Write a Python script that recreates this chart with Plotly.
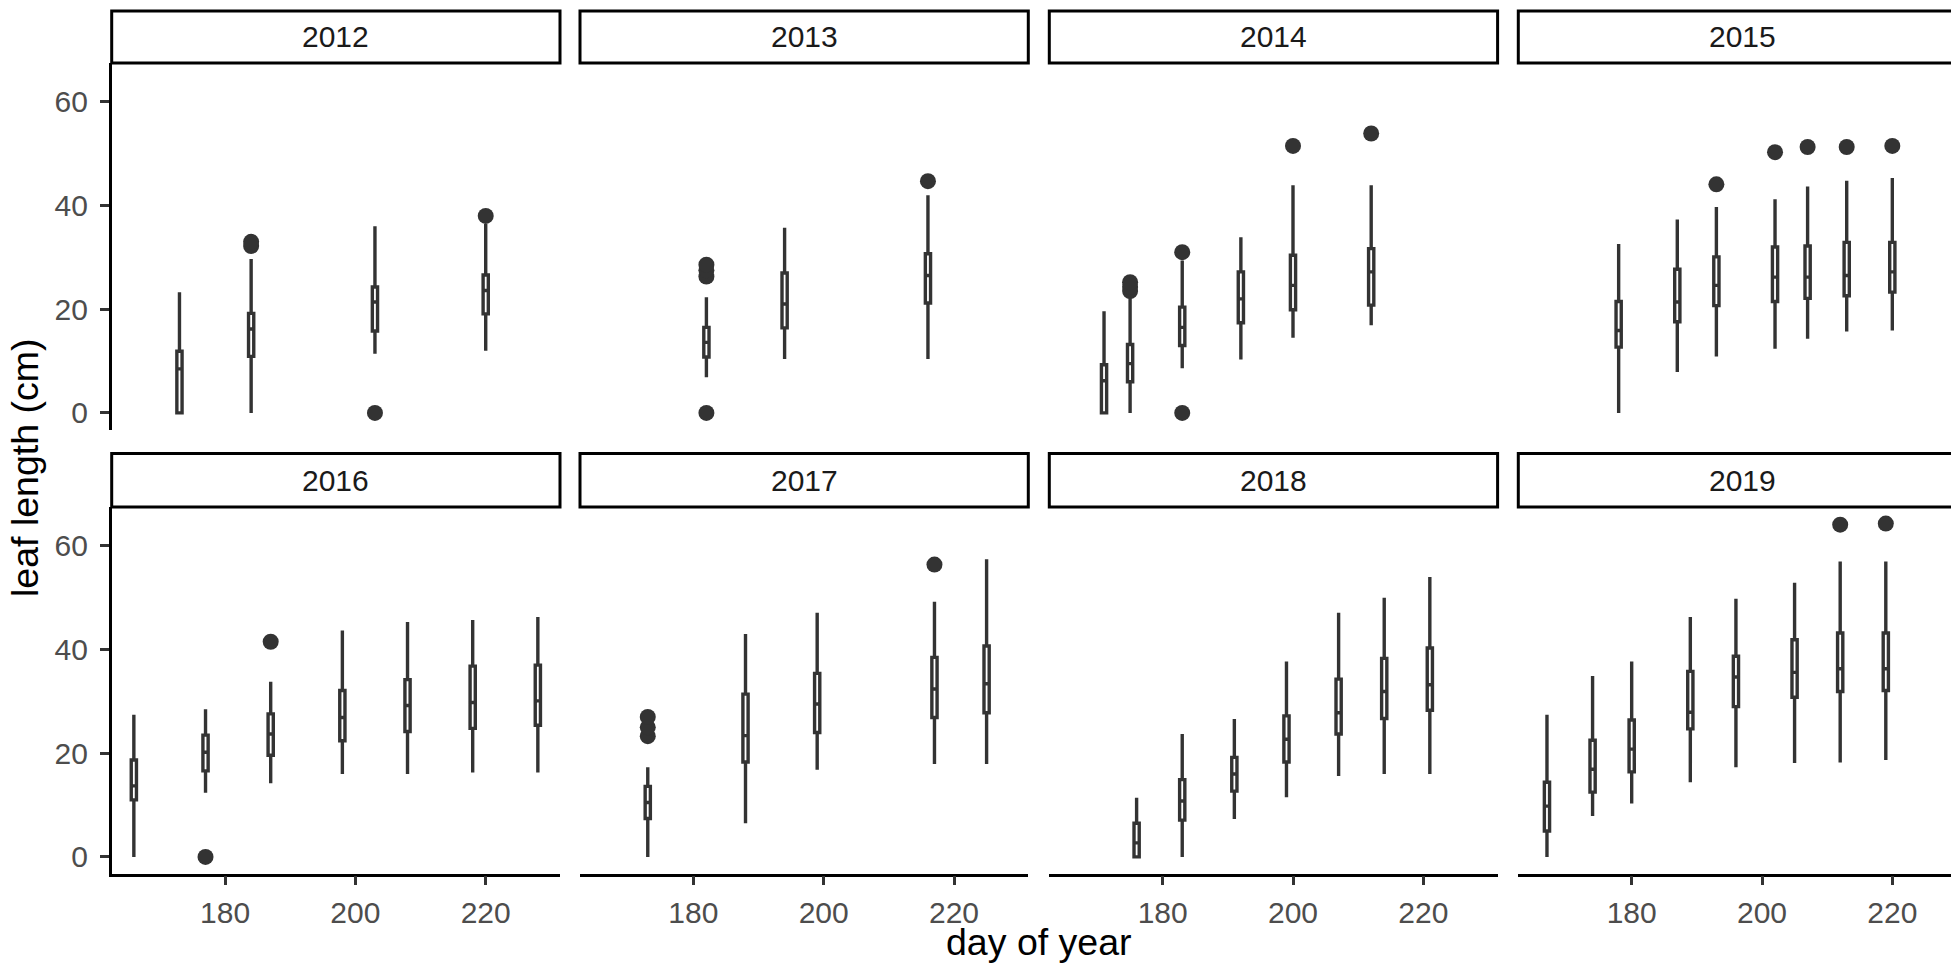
import plotly.graph_objects as go

# ---------------- data ----------------
YEARS = [2012, 2013, 2014, 2015, 2016, 2017, 2018, 2019]

DAYS = [
    [173, 184, 203, 220],
    [182, 194, 216],
    [171, 175, 183, 192, 200, 212],
    [178, 187, 193, 202, 207, 213, 220],
    [166, 177, 187, 198, 208, 218, 228],
    [173, 188, 199, 217, 225],
    [176, 183, 191, 199, 207, 214, 221],
    [167, 174, 180, 189, 196, 205, 212, 219],
]
LOWER = [
    [0, 0, 11.4, 12.0],
    [6.9, 10.4, 10.4],
    [0, 0, 8.6, 10.3, 14.5, 16.9],
    [0, 7.9, 10.9, 12.4, 14.3, 15.7, 15.9],
    [0, 12.4, 14.2, 16.0, 16.0, 16.3, 16.3],
    [0, 6.5, 16.8, 17.9, 17.9],
    [0, 0, 7.3, 11.5, 15.6, 16.0, 16.0],
    [0, 7.9, 10.3, 14.4, 17.3, 18.1, 18.2, 18.7],
]
Q1 = [
    [0, 10.9, 15.8, 19.1],
    [10.8, 16.4, 21.2],
    [0, 6.0, 13.0, 17.4, 19.9, 20.8],
    [12.7, 17.6, 20.7, 21.5, 22.1, 22.6, 23.3],
    [11.0, 16.6, 19.6, 22.4, 24.2, 24.8, 25.4],
    [7.4, 18.3, 24.0, 26.9, 27.8],
    [0, 7.1, 12.7, 18.3, 23.7, 26.7, 28.3],
    [5.0, 12.5, 16.4, 24.7, 29.0, 30.8, 31.9, 32.1],
]
MEDIAN = [
    [8.5, 16.2, 21.4, 23.6],
    [13.6, 21.0, 26.5],
    [6.2, 9.5, 16.5, 22.0, 24.6, 27.2],
    [15.9, 21.4, 24.6, 26.2, 26.2, 26.5, 27.2],
    [13.7, 20.2, 23.7, 26.9, 29.2, 29.8, 30.1],
    [10.5, 23.4, 29.5, 32.4, 33.4],
    [2.7, 10.8, 16.0, 22.7, 27.8, 31.9, 33.2],
    [9.8, 16.9, 20.8, 27.9, 34.7, 35.6, 36.3, 36.3],
]
Q3 = [
    [11.9, 19.2, 24.3, 26.6],
    [16.5, 27.0, 30.7],
    [9.3, 13.2, 20.4, 27.2, 30.4, 31.7],
    [21.5, 27.7, 30.1, 32.0, 32.2, 32.9, 32.9],
    [18.7, 23.5, 27.6, 32.1, 34.2, 36.8, 37.0],
    [13.6, 31.4, 35.4, 38.5, 40.7],
    [6.5, 14.9, 19.2, 27.2, 34.3, 38.3, 40.3],
    [14.4, 22.5, 26.4, 35.8, 38.7, 41.9, 43.2, 43.2],
]
UPPER = [
    [23.3, 29.7, 36.0, 36.5],
    [22.3, 35.7, 42.0],
    [19.6, 22.3, 29.4, 33.9, 43.9, 43.9],
    [32.6, 37.3, 39.7, 41.2, 43.7, 44.8, 45.3],
    [27.4, 28.5, 33.8, 43.7, 45.3, 45.7, 46.3],
    [17.3, 43.0, 47.1, 49.2, 57.4],
    [11.4, 23.7, 26.6, 37.7, 47.1, 50.0, 54.0],
    [27.4, 34.9, 37.7, 46.3, 49.8, 52.9, 57.0, 57.0],
]
OUT_DAYS = [
    [184, 184, 203, 220],
    [182, 182, 182, 182, 216],
    [175, 175, 175, 183, 183, 200, 212],
    [193, 202, 207, 213, 220],
    [177, 187],
    [173, 173, 173, 217],
    [],
    [212, 219],
]
OUT_VALS = [
    [32.2, 33.0, 0, 38.0],
    [0, 26.3, 27.5, 28.6, 44.7],
    [23.5, 24.3, 25.2, 31.0, 0, 51.5, 53.9],
    [44.1, 50.3, 51.3, 51.3, 51.5],
    [0, 41.5],
    [23.3, 25.0, 27.0, 56.4],
    [],
    [64.1, 64.3],
]

X_TICKS = [180, 200, 220]
Y_TICKS = [0, 20, 40, 60]
X_TITLE = "day of year"
Y_TITLE = "leaf length (cm)"

# ---------------- layout geometry (page pixels) ----------------
PAGE_W, PAGE_H = 1959, 963
BODY = 8  # default html body margin
W, H = PAGE_W - BODY, PAGE_H - BODY   # figure size


def px(xp):
    return (xp - BODY) / W


def py(yp):
    return 1 - (yp - BODY) / H


COL_LEFT = [111.7, 580.0, 1049.3, 1518.3]
PANEL_W = 448.3
ROW_TOP = [63.0, 507.0]
ROW_BOTTOM = [429.5, 873.5]
STRIP_TOP = [11.0, 453.5]
XR = [162.6, 231.4]
YR = [-3.2, 67.5]

FONT = "Liberation Sans, Arimo, Arial, sans-serif"
DARK = "#333333"

fig = go.Figure()
layout = dict(
    width=W, height=H,
    margin=dict(l=0, r=0, t=0, b=0),
    paper_bgcolor="white", plot_bgcolor="white",
    showlegend=False,
    font=dict(family=FONT),
    shapes=[], annotations=[],
)

for i, year in enumerate(YEARS):
    r, c = divmod(i, 4)
    suffix = "" if i == 0 else str(i + 1)
    left = COL_LEFT[c]
    right_full = left + PANEL_W
    right = min(right_full, PAGE_W)
    x_hi = XR[0] + (right - left) / PANEL_W * (XR[1] - XR[0])

    fig.add_trace(go.Box(
        x=DAYS[i], q1=Q1[i], median=MEDIAN[i], q3=Q3[i],
        lowerfence=LOWER[i], upperfence=UPPER[i],
        width=0.8, whiskerwidth=0, boxpoints=False,
        fillcolor="white", line=dict(color=DARK, width=3.4),
        xaxis="x" + suffix, yaxis="y" + suffix, hoverinfo="skip",
    ))
    if OUT_DAYS[i]:
        fig.add_trace(go.Scatter(
            x=OUT_DAYS[i], y=OUT_VALS[i], mode="markers",
            marker=dict(color=DARK, size=16, line=dict(width=0)),
            xaxis="x" + suffix, yaxis="y" + suffix, hoverinfo="skip",
        ))

    bottom_row = (r == 1)
    first_col = (c == 0)
    layout["xaxis" + suffix] = dict(
        domain=[px(left), min(px(right), 1.0)], range=[XR[0], x_hi],
        anchor="y" + suffix,
        showline=bottom_row, linecolor="black", linewidth=2.7,
        ticks="outside" if bottom_row else "", ticklen=9, tickwidth=2.5, tickcolor=DARK,
        tickvals=X_TICKS, showticklabels=bottom_row,
        tickfont=dict(size=30, color="#4d4d4d", family=FONT),
        ticklabelstandoff=2,
        showgrid=False, zeroline=False, fixedrange=True,
    )
    layout["yaxis" + suffix] = dict(
        domain=[py(ROW_BOTTOM[r]), py(ROW_TOP[r])], range=YR,
        anchor="x" + suffix,
        showline=first_col, linecolor="black", linewidth=2.7,
        ticks="outside" if first_col else "", ticklen=9, tickwidth=2.5, tickcolor=DARK,
        tickvals=Y_TICKS, showticklabels=first_col,
        tickfont=dict(size=30, color="#4d4d4d", family=FONT),
        ticklabelstandoff=6,
        showgrid=False, zeroline=False, fixedrange=True,
    )

    # facet strip
    layout["shapes"].append(dict(
        type="rect", xref="paper", yref="paper",
        x0=px(left), x1=px(right_full),
        y0=py(ROW_TOP[r]), y1=py(STRIP_TOP[r]),
        line=dict(color="black", width=3), fillcolor="white", layer="above",
    ))
    layout["annotations"].append(dict(
        text=str(year), xref="paper", yref="paper",
        x=px(left + PANEL_W / 2), y=py((STRIP_TOP[r] + ROW_TOP[r]) / 2),
        xanchor="center", yanchor="middle", showarrow=False,
        font=dict(size=30, color="#1a1a1a", family=FONT),
    ))

# axis titles
layout["annotations"].append(dict(
    text=X_TITLE, xref="paper", yref="paper",
    x=px((COL_LEFT[0] + COL_LEFT[3] + PANEL_W) / 2), y=py(942),
    xanchor="center", yanchor="middle", showarrow=False,
    font=dict(size=37.5, color="black", family=FONT),
))
layout["annotations"].append(dict(
    text=Y_TITLE, xref="paper", yref="paper",
    x=px(25), y=py(468), textangle=-90,
    xanchor="center", yanchor="middle", showarrow=False,
    font=dict(size=37.5, color="black", family=FONT),
))

fig.update_layout(**layout)
fig.write_html("out.html")
